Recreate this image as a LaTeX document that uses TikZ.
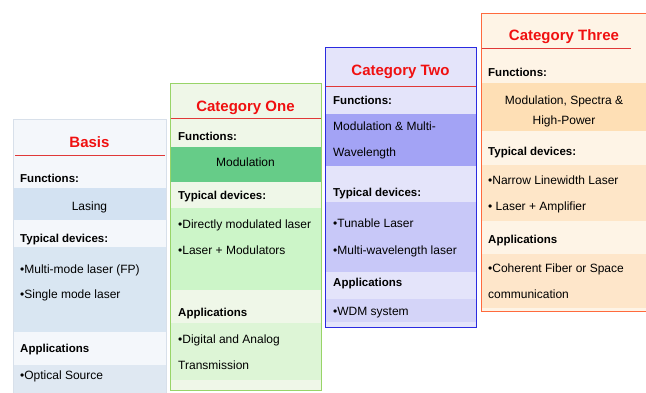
\documentclass[tikz,border=0pt]{standalone}
\usepackage{fontspec}
\setmainfont{Liberation Sans}
\definecolor{redtitle}{HTML}{F01010}
\definecolor{redline}{HTML}{E03838}
\definecolor{bFill}{HTML}{F4F7FB}
\definecolor{bBand}{HTML}{D3E2F2}
\definecolor{bBandB}{HTML}{D9E6F2}
\definecolor{bBandC}{HTML}{DFE8F2}
\definecolor{bBorder}{HTML}{D8E0EA}
\definecolor{oFill}{HTML}{EFF7E8}
\definecolor{oBand}{HTML}{66CC88}
\definecolor{oBandB}{HTML}{CCF5C8}
\definecolor{oBandC}{HTML}{DDF5D6}
\definecolor{oBorder}{HTML}{98D468}
\definecolor{tFill}{HTML}{E4E4FA}
\definecolor{tBand}{HTML}{A3A3F5}
\definecolor{tBandB}{HTML}{C8C8F8}
\definecolor{tBandC}{HTML}{D4D4F8}
\definecolor{tBorder}{HTML}{2B2BE0}
\definecolor{hFill}{HTML}{FEF4E6}
\definecolor{hBand}{HTML}{FEDFB5}
\definecolor{hBandB}{HTML}{FEE6C8}
\definecolor{hBandC}{HTML}{FEE6CA}
\definecolor{hBorder}{HTML}{FF6A3D}
\tikzset{
  ttl/.style={anchor=base, inner sep=0pt, text=redtitle, font=\fontsize{15}{17}\selectfont\bfseries},
  hdr/.style={anchor=base west, inner sep=0pt, font=\fontsize{11.5}{14}\selectfont\bfseries},
  itm/.style={anchor=base west, inner sep=0pt, font=\fontsize{12}{14}\selectfont},
  itc/.style={anchor=base, inner sep=0pt, font=\fontsize{12}{14}\selectfont},
  rl/.style={draw=redline, line width=0.9pt},
}
\begin{document}
\begin{tikzpicture}[x=1pt,y=-1pt]
\useasboundingbox (0,0) rectangle (646,392);
\clip (0,0) rectangle (646,392);
\fill[white] (0,0) rectangle (646,392);

% ---------- Basis ----------
\fill[bFill] (13,119) rectangle (166,400);
\fill[bBand] (13,188) rectangle (166,220);
\fill[bBandB] (13,247) rectangle (166,332);
\fill[bBandC] (13,365) rectangle (166,400);
\draw[bBorder, line width=0.8pt] (13,400) -- (13,119) -- (166,119) -- (166,400);
\draw[rl] (15,155) -- (165,155);
\node[ttl] (b0) at (89.5,147) {Basis};
\node[hdr] (b1) at (20,182.5) {Functions:};
\node[itc] (b2) at (89.5,210.7) {Lasing};
\node[hdr] (b3) at (20,242.7) {Typical devices:};
\node[itm] (b4) at (20,273) {•Multi-mode laser (FP)};
\node[itm] (b5) at (20,298) {•Single mode laser};
\node[hdr] (b6) at (20,352) {Applications};
\node[itm] (b7) at (20,379) {•Optical Source};

% ---------- Category One ----------
\fill[oFill] (170,83) rectangle (321,390);
\fill[oBand] (170,147) rectangle (321,182);
\fill[oBandB] (170,208) rectangle (321,290);
\fill[oBandC] (170,323) rectangle (321,380);
\draw[oBorder, line width=1pt] (170,83) rectangle (321,390);
\draw[rl] (170.5,118) -- (320.5,118);
\node[ttl] (o0) at (245.5,111) {Category One};
\node[hdr] (o1) at (178,140) {Functions:};
\node[itc] (o2) at (245.5,166.7) {Modulation};
\node[hdr] (o3) at (178,199) {Typical devices:};
\node[itm] (o4) at (178,228.3) {•Directly modulated laser};
\node[itm] (o5) at (178,254.3) {•Laser + Modulators};
\node[hdr] (o6) at (178,316.7) {Applications};
\node[itm] (o7) at (178,343.3) {•Digital and Analog};
\node[itm] (o8) at (178,369) {Transmission};

% ---------- Category Two ----------
\fill[tFill] (325,47) rectangle (476,327);
\fill[tBand] (325,114) rectangle (476,166);
\fill[tBandB] (325,202) rectangle (476,272);
\fill[tBandC] (325,299) rectangle (476,322);
\draw[tBorder, line width=1pt] (325,47) rectangle (476,327);
\draw[rl] (325.5,86) -- (475.5,86);
\node[ttl] (t0) at (400.5,75) {Category Two};
\node[hdr] (t1) at (333,104) {Functions:};
\node[itm] (t2) at (333,130.7) {Modulation \& Multi-};
\node[itm] (t3) at (333,156.7) {Wavelength};
\node[hdr] (t4) at (333,196.7) {Typical devices:};
\node[itm] (t5) at (333,227.3) {•Tunable Laser};
\node[itm] (t6) at (333,254) {•Multi-wavelength laser};
\node[hdr] (t7) at (333,286.7) {Applications};
\node[itm] (t8) at (333,315.7) {•WDM system};

% ---------- Category Three ----------
\fill[hFill] (481,13) rectangle (650,311);
\fill[hBand] (481,83) rectangle (650,131);
\fill[hBandB] (481,165) rectangle (650,221);
\fill[hBandC] (481,254) rectangle (650,308);
\draw[hBorder, line width=1pt] (650,13) -- (481,13) -- (481,311) -- (650,311);
\draw[rl] (481.5,48) -- (631,48);
\node[ttl] (h0) at (564,40) {Category Three};
\node[hdr] (h1) at (488,76) {Functions:};
\node[itc] (h2) at (564,104) {Modulation, Spectra \&};
\node[itc] (h3) at (564,124) {High-Power};
\node[hdr] (h4) at (488,155) {Typical devices:};
\node[itm] (h5) at (488,184) {•Narrow Linewidth Laser};
\node[itm] (h6) at (488,210) {• Laser + Amplifier};
\node[hdr] (h7) at (488,243.3) {Applications};
\node[itm] (h8) at (488,272.7) {•Coherent Fiber or Space};
\node[itm] (h9) at (488,298) {communication};
\end{tikzpicture}
\end{document}
